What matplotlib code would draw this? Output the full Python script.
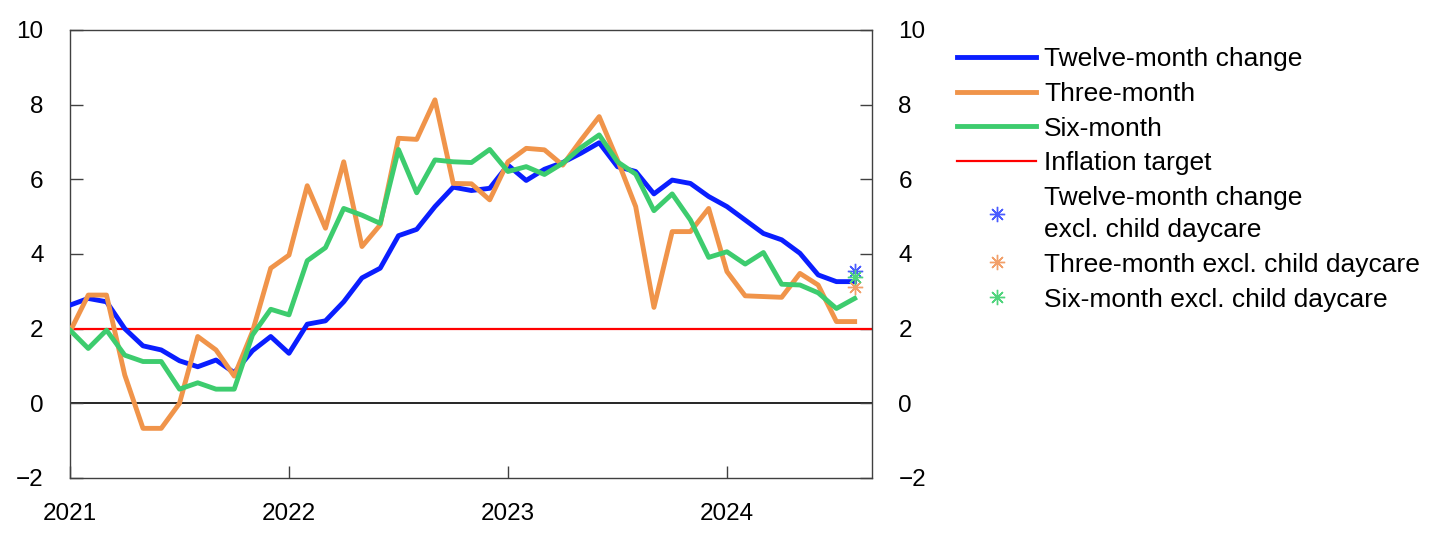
import matplotlib
matplotlib.use("Agg")
import matplotlib.pyplot as plt
import numpy as np

plt.rcParams["font.family"] = ["Liberation Sans", "DejaVu Sans"]
plt.rcParams["axes.unicode_minus"] = True

# monthly observations, Jan 2021 - Aug 2024
months = np.arange(44)
twelve = [2.63, 2.81, 2.72, 2.00, 1.54, 1.43, 1.14, 0.98, 1.16, 0.82, 1.41, 1.79,
          1.34, 2.12, 2.21, 2.72, 3.36, 3.62, 4.49, 4.66, 5.27, 5.79, 5.70, 5.76,
          6.38, 5.97, 6.27, 6.45, 6.70, 6.98, 6.34, 6.21, 5.61, 5.98, 5.89, 5.54,
          5.27, 4.91, 4.55, 4.38, 4.02, 3.44, 3.26, 3.26]
three = [1.92, 2.90, 2.90, 0.76, -0.67, -0.67, 0.00, 1.79, 1.43, 0.73, 1.92, 3.62,
         3.97, 5.83, 4.69, 6.47, 4.20, 4.78, 7.10, 7.07, 8.13, 5.89, 5.88, 5.45,
         6.47, 6.83, 6.79, 6.38, 7.05, 7.68, 6.52, 5.27, 2.57, 4.60, 4.60, 5.22,
         3.53, 2.88, 2.86, 2.84, 3.48, 3.17, 2.19, 2.19]
six = [1.96, 1.47, 1.96, 1.29, 1.12, 1.12, 0.38, 0.55, 0.38, 0.38, 1.83, 2.52,
       2.37, 3.82, 4.17, 5.22, 5.04, 4.82, 6.80, 5.64, 6.52, 6.47, 6.45, 6.80,
       6.21, 6.34, 6.13, 6.43, 6.85, 7.19, 6.47, 6.14, 5.16, 5.61, 4.91, 3.91,
       4.06, 3.73, 4.04, 3.19, 3.17, 2.96, 2.54, 2.81]
target = 2.0
# latest month excluding child daycare
excl_month = 43
excl_twelve = 3.55
excl_three = 3.12
excl_six = 3.38

year_ticks = [0, 12, 24, 36]
year_labels = ["2021", "2022", "2023", "2024"]

BLUE = "#0a1eff"
ORANGE = "#f0944a"
GREEN = "#3dcc6e"
RED = "#ff0000"

fig = plt.figure(figsize=(14.45, 5.43), dpi=100)
ax = fig.add_axes([70 / 1445, 1 - 478 / 543, 802 / 1445, 448 / 543])

ax.axhline(0, color="black", lw=1.2, zorder=1)
ax.plot(months, twelve, color=BLUE, lw=3.5, label="Twelve-month change", zorder=3)
ax.plot(months, three, color=ORANGE, lw=3.5, label="Three-month", zorder=3)
ax.plot(months, six, color=GREEN, lw=3.5, label="Six-month", zorder=4)
ax.axhline(target, color=RED, lw=1.6, label="Inflation target", zorder=2)

star = (8, 2, 0)
ax.plot([excl_month], [excl_twelve], ls="none", marker=star, ms=11, mew=1.0,
        color="#4a5cff", label="Twelve-month change\nexcl. child daycare", zorder=5)
ax.plot([excl_month], [excl_three], ls="none", marker=star, ms=11, mew=1.0,
        color="#f2a06a", label="Three-month excl. child daycare", zorder=5)
ax.plot([excl_month], [excl_six], ls="none", marker=star, ms=11, mew=1.0,
        color="#4fd47c", label="Six-month excl. child daycare", zorder=5)

ax.set_xlim(0, 43.95)
ax.set_ylim(-2, 10)
ax.set_yticks(range(-2, 11, 2))
ax.set_xticks(year_ticks)
ax.set_xticklabels(year_labels)

for s in ax.spines.values():
    s.set_color("#404040")
    s.set_linewidth(1.0)
ax.tick_params(axis="y", direction="in", length=9, width=1.0, color="#404040",
               left=True, right=True, labelleft=True, labelright=True,
               labelsize=17.5, pad=19)
ax.tick_params(axis="x", direction="in", length=9, width=1.0, color="#404040",
               labelsize=17.5, pad=18)

leg = fig.legend(loc="upper left", bbox_to_anchor=(957 / 1445, 1 - 47 / 543),
                 frameon=False, fontsize=19, handlelength=3.0, handletextpad=0.3,
                 labelspacing=0.41, borderpad=0, borderaxespad=0)
for t in leg.get_texts():
    t.set_linespacing(1.4)

fig.savefig("out.png", dpi=100)
